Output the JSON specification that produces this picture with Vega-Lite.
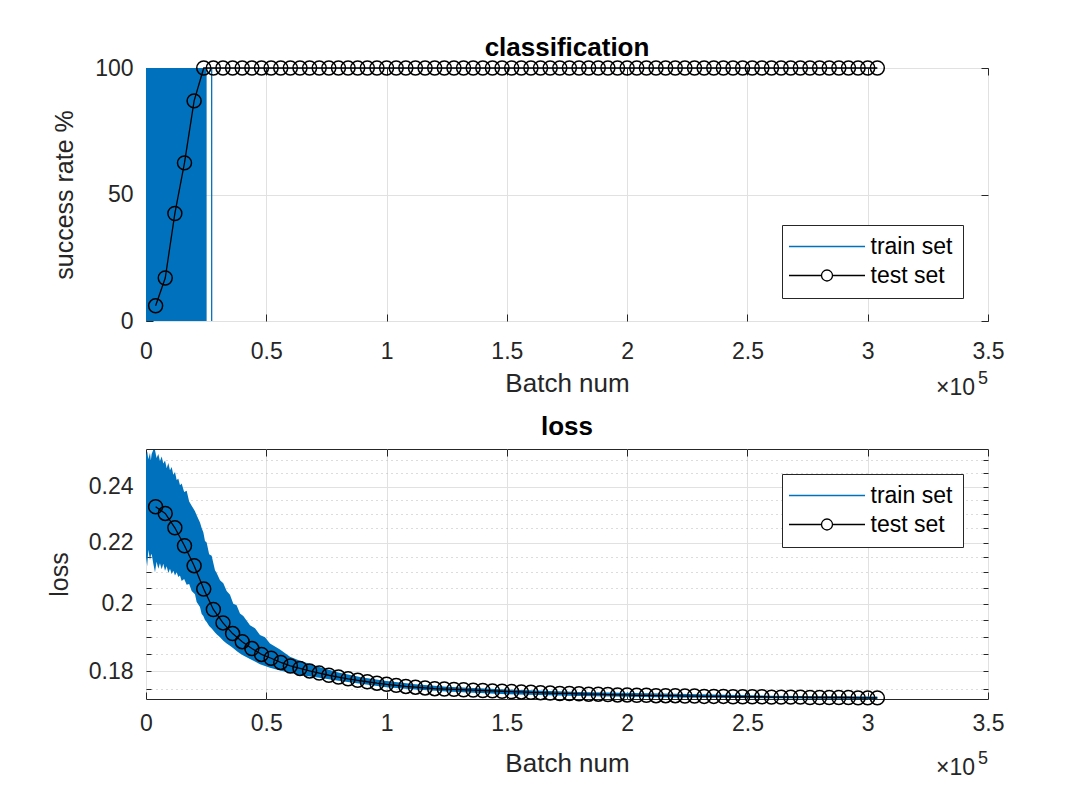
{
  "$schema": "https://vega.github.io/schema/vega-lite/v6.json",
  "background": "white",
  "autosize": {"type": "pad"},
  "padding": {"left": 46, "top": 34, "right": 5, "bottom": 5},
  "config": {
    "font": "Liberation Sans",
    "view": {"stroke": "#262626", "strokeWidth": 1},
    "axis": {
      "labelFont": "Liberation Sans", "labelFontSize": 23, "labelColor": "#262626",
      "titleFont": "Liberation Sans", "titleFontSize": 25, "titleFontWeight": "normal", "titleColor": "#262626",
      "domain": false, "tickColor": "#262626", "tickWidth": 1,
      "gridColor": "#e1e1e1", "gridWidth": 1, "labelFlush": false, "labelOverlap": false
    },
    "title": {"font": "Liberation Sans", "fontSize": 26, "fontWeight": "bold", "color": "#000000"},
    "legend": {
      "orient": "none", "title": null,
      "labelFont": "Liberation Sans", "labelFontSize": 23, "labelColor": "#000000",
      "strokeColor": "#262626", "fillColor": "white", "padding": 10,
      "symbolSize": 100, "symbolOffset": 23.5, "labelOffset": 32, "rowPadding": 5,
      "symbolStrokeWidth": 1.3, "symbolFillColor": "transparent",
      "labelLimit": 0
    }
  },
  "datasets": {
    "topBand": [
      {"batch": 0, "lo": 0, "hi": 100, "series": "train set"},
      {"batch": 25200, "lo": 0, "hi": 100, "series": "train set"}
    ],
    "topTrain": [
      {"batch": 25200, "rate": 100, "series": "train set"},
      {"batch": 27250, "rate": 100, "series": "train set"},
      {"batch": 27300, "rate": 0, "series": "train set"},
      {"batch": 27350, "rate": 100, "series": "train set"},
      {"batch": 304000, "rate": 100, "series": "train set"}
    ],
    "topTest": [
      {"batch": 4000, "rate": 6, "series": "test set"},
      {"batch": 8000, "rate": 17, "series": "test set"},
      {"batch": 12000, "rate": 42.5, "series": "test set"},
      {"batch": 16000, "rate": 62.5, "series": "test set"},
      {"batch": 20000, "rate": 87, "series": "test set"},
      {"batch": 24000, "rate": 100, "series": "test set"},
      {"batch": 28000, "rate": 100, "series": "test set"},
      {"batch": 32000, "rate": 100, "series": "test set"},
      {"batch": 36000, "rate": 100, "series": "test set"},
      {"batch": 40000, "rate": 100, "series": "test set"},
      {"batch": 44000, "rate": 100, "series": "test set"},
      {"batch": 48000, "rate": 100, "series": "test set"},
      {"batch": 52000, "rate": 100, "series": "test set"},
      {"batch": 56000, "rate": 100, "series": "test set"},
      {"batch": 60000, "rate": 100, "series": "test set"},
      {"batch": 64000, "rate": 100, "series": "test set"},
      {"batch": 68000, "rate": 100, "series": "test set"},
      {"batch": 72000, "rate": 100, "series": "test set"},
      {"batch": 76000, "rate": 100, "series": "test set"},
      {"batch": 80000, "rate": 100, "series": "test set"},
      {"batch": 84000, "rate": 100, "series": "test set"},
      {"batch": 88000, "rate": 100, "series": "test set"},
      {"batch": 92000, "rate": 100, "series": "test set"},
      {"batch": 96000, "rate": 100, "series": "test set"},
      {"batch": 100000, "rate": 100, "series": "test set"},
      {"batch": 104000, "rate": 100, "series": "test set"},
      {"batch": 108000, "rate": 100, "series": "test set"},
      {"batch": 112000, "rate": 100, "series": "test set"},
      {"batch": 116000, "rate": 100, "series": "test set"},
      {"batch": 120000, "rate": 100, "series": "test set"},
      {"batch": 124000, "rate": 100, "series": "test set"},
      {"batch": 128000, "rate": 100, "series": "test set"},
      {"batch": 132000, "rate": 100, "series": "test set"},
      {"batch": 136000, "rate": 100, "series": "test set"},
      {"batch": 140000, "rate": 100, "series": "test set"},
      {"batch": 144000, "rate": 100, "series": "test set"},
      {"batch": 148000, "rate": 100, "series": "test set"},
      {"batch": 152000, "rate": 100, "series": "test set"},
      {"batch": 156000, "rate": 100, "series": "test set"},
      {"batch": 160000, "rate": 100, "series": "test set"},
      {"batch": 164000, "rate": 100, "series": "test set"},
      {"batch": 168000, "rate": 100, "series": "test set"},
      {"batch": 172000, "rate": 100, "series": "test set"},
      {"batch": 176000, "rate": 100, "series": "test set"},
      {"batch": 180000, "rate": 100, "series": "test set"},
      {"batch": 184000, "rate": 100, "series": "test set"},
      {"batch": 188000, "rate": 100, "series": "test set"},
      {"batch": 192000, "rate": 100, "series": "test set"},
      {"batch": 196000, "rate": 100, "series": "test set"},
      {"batch": 200000, "rate": 100, "series": "test set"},
      {"batch": 204000, "rate": 100, "series": "test set"},
      {"batch": 208000, "rate": 100, "series": "test set"},
      {"batch": 212000, "rate": 100, "series": "test set"},
      {"batch": 216000, "rate": 100, "series": "test set"},
      {"batch": 220000, "rate": 100, "series": "test set"},
      {"batch": 224000, "rate": 100, "series": "test set"},
      {"batch": 228000, "rate": 100, "series": "test set"},
      {"batch": 232000, "rate": 100, "series": "test set"},
      {"batch": 236000, "rate": 100, "series": "test set"},
      {"batch": 240000, "rate": 100, "series": "test set"},
      {"batch": 244000, "rate": 100, "series": "test set"},
      {"batch": 248000, "rate": 100, "series": "test set"},
      {"batch": 252000, "rate": 100, "series": "test set"},
      {"batch": 256000, "rate": 100, "series": "test set"},
      {"batch": 260000, "rate": 100, "series": "test set"},
      {"batch": 264000, "rate": 100, "series": "test set"},
      {"batch": 268000, "rate": 100, "series": "test set"},
      {"batch": 272000, "rate": 100, "series": "test set"},
      {"batch": 276000, "rate": 100, "series": "test set"},
      {"batch": 280000, "rate": 100, "series": "test set"},
      {"batch": 284000, "rate": 100, "series": "test set"},
      {"batch": 288000, "rate": 100, "series": "test set"},
      {"batch": 292000, "rate": 100, "series": "test set"},
      {"batch": 296000, "rate": 100, "series": "test set"},
      {"batch": 300000, "rate": 100, "series": "test set"},
      {"batch": 304000, "rate": 100, "series": "test set"}
    ],
    "lossBand": [
      {"batch": 0, "lo": 0.2150, "hi": 0.2518, "series": "train set"},
      {"batch": 500, "lo": 0.2120, "hi": 0.2535, "series": "train set"},
      {"batch": 970, "lo": 0.2175, "hi": 0.2505, "series": "train set"},
      {"batch": 1660, "lo": 0.2140, "hi": 0.2530, "series": "train set"},
      {"batch": 2000, "lo": 0.2155, "hi": 0.2500, "series": "train set"},
      {"batch": 2350, "lo": 0.2162, "hi": 0.2525, "series": "train set"},
      {"batch": 3000, "lo": 0.2130, "hi": 0.2541, "series": "train set"},
      {"batch": 3740, "lo": 0.2100, "hi": 0.2541, "series": "train set"},
      {"batch": 4400, "lo": 0.2135, "hi": 0.2510, "series": "train set"},
      {"batch": 5120, "lo": 0.2112, "hi": 0.2525, "series": "train set"},
      {"batch": 5800, "lo": 0.2130, "hi": 0.2498, "series": "train set"},
      {"batch": 6510, "lo": 0.2110, "hi": 0.2515, "series": "train set"},
      {"batch": 7200, "lo": 0.2128, "hi": 0.2488, "series": "train set"},
      {"batch": 7900, "lo": 0.2105, "hi": 0.2500, "series": "train set"},
      {"batch": 8600, "lo": 0.2120, "hi": 0.2470, "series": "train set"},
      {"batch": 9280, "lo": 0.2098, "hi": 0.2490, "series": "train set"},
      {"batch": 9970, "lo": 0.2112, "hi": 0.2462, "series": "train set"},
      {"batch": 10670, "lo": 0.2095, "hi": 0.2475, "series": "train set"},
      {"batch": 11360, "lo": 0.2105, "hi": 0.2445, "series": "train set"},
      {"batch": 12050, "lo": 0.2090, "hi": 0.2455, "series": "train set"},
      {"batch": 12740, "lo": 0.2100, "hi": 0.2425, "series": "train set"},
      {"batch": 13440, "lo": 0.2085, "hi": 0.2430, "series": "train set"},
      {"batch": 14130, "lo": 0.2090, "hi": 0.2405, "series": "train set"},
      {"batch": 14820, "lo": 0.2072, "hi": 0.2412, "series": "train set"},
      {"batch": 15860, "lo": 0.2078, "hi": 0.2380, "series": "train set"},
      {"batch": 16900, "lo": 0.2060, "hi": 0.2385, "series": "train set"},
      {"batch": 17940, "lo": 0.2062, "hi": 0.2345, "series": "train set"},
      {"batch": 18980, "lo": 0.2040, "hi": 0.2330, "series": "train set"},
      {"batch": 20360, "lo": 0.2030, "hi": 0.2310, "series": "train set"},
      {"batch": 21060, "lo": 0.2005, "hi": 0.2295, "series": "train set"},
      {"batch": 22440, "lo": 0.1990, "hi": 0.2270, "series": "train set"},
      {"batch": 23130, "lo": 0.1968, "hi": 0.2250, "series": "train set"},
      {"batch": 23830, "lo": 0.1962, "hi": 0.2235, "series": "train set"},
      {"batch": 24520, "lo": 0.1950, "hi": 0.2205, "series": "train set"},
      {"batch": 25210, "lo": 0.1944, "hi": 0.2200, "series": "train set"},
      {"batch": 26250, "lo": 0.1932, "hi": 0.2160, "series": "train set"},
      {"batch": 27290, "lo": 0.1924, "hi": 0.2155, "series": "train set"},
      {"batch": 28680, "lo": 0.1912, "hi": 0.2107, "series": "train set"},
      {"batch": 29370, "lo": 0.1907, "hi": 0.2098, "series": "train set"},
      {"batch": 30760, "lo": 0.1898, "hi": 0.2074, "series": "train set"},
      {"batch": 32140, "lo": 0.1888, "hi": 0.2065, "series": "train set"},
      {"batch": 33520, "lo": 0.1880, "hi": 0.2040, "series": "train set"},
      {"batch": 34910, "lo": 0.1873, "hi": 0.2028, "series": "train set"},
      {"batch": 36290, "lo": 0.1866, "hi": 0.2000, "series": "train set"},
      {"batch": 37670, "lo": 0.1858, "hi": 0.1995, "series": "train set"},
      {"batch": 39070, "lo": 0.1851, "hi": 0.1970, "series": "train set"},
      {"batch": 40450, "lo": 0.1845, "hi": 0.1962, "series": "train set"},
      {"batch": 43220, "lo": 0.1835, "hi": 0.1934, "series": "train set"},
      {"batch": 45300, "lo": 0.1828, "hi": 0.1925, "series": "train set"},
      {"batch": 47380, "lo": 0.1820, "hi": 0.1905, "series": "train set"},
      {"batch": 49460, "lo": 0.1815, "hi": 0.1898, "series": "train set"},
      {"batch": 51540, "lo": 0.1810, "hi": 0.1880, "series": "train set"},
      {"batch": 55690, "lo": 0.1802, "hi": 0.1862, "series": "train set"},
      {"batch": 59850, "lo": 0.1796, "hi": 0.1841, "series": "train set"},
      {"batch": 64000, "lo": 0.1790, "hi": 0.1830, "series": "train set"},
      {"batch": 72000, "lo": 0.1782, "hi": 0.1812, "series": "train set"},
      {"batch": 80000, "lo": 0.1774, "hi": 0.1797, "series": "train set"},
      {"batch": 90000, "lo": 0.1765, "hi": 0.1783, "series": "train set"},
      {"batch": 100000, "lo": 0.1756, "hi": 0.1773, "series": "train set"},
      {"batch": 112000, "lo": 0.1750, "hi": 0.1764, "series": "train set"},
      {"batch": 125000, "lo": 0.1744, "hi": 0.1757, "series": "train set"},
      {"batch": 150000, "lo": 0.1737, "hi": 0.1750, "series": "train set"},
      {"batch": 180000, "lo": 0.1732, "hi": 0.1743, "series": "train set"},
      {"batch": 220000, "lo": 0.1728, "hi": 0.1738, "series": "train set"},
      {"batch": 260000, "lo": 0.1726, "hi": 0.1733, "series": "train set"},
      {"batch": 304000, "lo": 0.1724, "hi": 0.1731, "series": "train set"}
    ],
    "lossTest": [
      {"batch": 4000, "loss": 0.2326, "series": "test set"},
      {"batch": 8000, "loss": 0.2302, "series": "test set"},
      {"batch": 12000, "loss": 0.2251, "series": "test set"},
      {"batch": 16000, "loss": 0.2189, "series": "test set"},
      {"batch": 20000, "loss": 0.2122, "series": "test set"},
      {"batch": 24000, "loss": 0.2046, "series": "test set"},
      {"batch": 28000, "loss": 0.1982, "series": "test set"},
      {"batch": 32000, "loss": 0.1941, "series": "test set"},
      {"batch": 36000, "loss": 0.1909, "series": "test set"},
      {"batch": 40000, "loss": 0.1885, "series": "test set"},
      {"batch": 44000, "loss": 0.1865, "series": "test set"},
      {"batch": 48000, "loss": 0.1848, "series": "test set"},
      {"batch": 52000, "loss": 0.1837, "series": "test set"},
      {"batch": 56000, "loss": 0.1825, "series": "test set"},
      {"batch": 60000, "loss": 0.1815, "series": "test set"},
      {"batch": 64000, "loss": 0.1808, "series": "test set"},
      {"batch": 68000, "loss": 0.1801, "series": "test set"},
      {"batch": 72000, "loss": 0.1795, "series": "test set"},
      {"batch": 76000, "loss": 0.1789, "series": "test set"},
      {"batch": 80000, "loss": 0.1784, "series": "test set"},
      {"batch": 84000, "loss": 0.1779, "series": "test set"},
      {"batch": 88000, "loss": 0.1775, "series": "test set"},
      {"batch": 92000, "loss": 0.1771, "series": "test set"},
      {"batch": 96000, "loss": 0.1767, "series": "test set"},
      {"batch": 100000, "loss": 0.1764, "series": "test set"},
      {"batch": 104000, "loss": 0.1761, "series": "test set"},
      {"batch": 108000, "loss": 0.1758, "series": "test set"},
      {"batch": 112000, "loss": 0.1756, "series": "test set"},
      {"batch": 116000, "loss": 0.1754, "series": "test set"},
      {"batch": 120000, "loss": 0.1752, "series": "test set"},
      {"batch": 124000, "loss": 0.1751, "series": "test set"},
      {"batch": 128000, "loss": 0.1750, "series": "test set"},
      {"batch": 132000, "loss": 0.1749, "series": "test set"},
      {"batch": 136000, "loss": 0.1748, "series": "test set"},
      {"batch": 140000, "loss": 0.1747, "series": "test set"},
      {"batch": 144000, "loss": 0.1746, "series": "test set"},
      {"batch": 148000, "loss": 0.1745, "series": "test set"},
      {"batch": 152000, "loss": 0.1744, "series": "test set"},
      {"batch": 156000, "loss": 0.1743, "series": "test set"},
      {"batch": 160000, "loss": 0.1742, "series": "test set"},
      {"batch": 164000, "loss": 0.1741, "series": "test set"},
      {"batch": 168000, "loss": 0.1740, "series": "test set"},
      {"batch": 172000, "loss": 0.1739, "series": "test set"},
      {"batch": 176000, "loss": 0.1739, "series": "test set"},
      {"batch": 180000, "loss": 0.1738, "series": "test set"},
      {"batch": 184000, "loss": 0.1737, "series": "test set"},
      {"batch": 188000, "loss": 0.1737, "series": "test set"},
      {"batch": 192000, "loss": 0.1736, "series": "test set"},
      {"batch": 196000, "loss": 0.1735, "series": "test set"},
      {"batch": 200000, "loss": 0.1735, "series": "test set"},
      {"batch": 204000, "loss": 0.1734, "series": "test set"},
      {"batch": 208000, "loss": 0.1734, "series": "test set"},
      {"batch": 212000, "loss": 0.1733, "series": "test set"},
      {"batch": 216000, "loss": 0.1733, "series": "test set"},
      {"batch": 220000, "loss": 0.1733, "series": "test set"},
      {"batch": 224000, "loss": 0.1732, "series": "test set"},
      {"batch": 228000, "loss": 0.1732, "series": "test set"},
      {"batch": 232000, "loss": 0.1731, "series": "test set"},
      {"batch": 236000, "loss": 0.1731, "series": "test set"},
      {"batch": 240000, "loss": 0.1731, "series": "test set"},
      {"batch": 244000, "loss": 0.1730, "series": "test set"},
      {"batch": 248000, "loss": 0.1730, "series": "test set"},
      {"batch": 252000, "loss": 0.1730, "series": "test set"},
      {"batch": 256000, "loss": 0.1730, "series": "test set"},
      {"batch": 260000, "loss": 0.1729, "series": "test set"},
      {"batch": 264000, "loss": 0.1729, "series": "test set"},
      {"batch": 268000, "loss": 0.1729, "series": "test set"},
      {"batch": 272000, "loss": 0.1729, "series": "test set"},
      {"batch": 276000, "loss": 0.1728, "series": "test set"},
      {"batch": 280000, "loss": 0.1728, "series": "test set"},
      {"batch": 284000, "loss": 0.1728, "series": "test set"},
      {"batch": 288000, "loss": 0.1728, "series": "test set"},
      {"batch": 292000, "loss": 0.1728, "series": "test set"},
      {"batch": 296000, "loss": 0.1727, "series": "test set"},
      {"batch": 300000, "loss": 0.1727, "series": "test set"},
      {"batch": 304000, "loss": 0.1727, "series": "test set"}
    ],
    "expo": [{"batch": 350000, "base": "×10", "sup": "5"}]
  },
  "bounds": "flush",
  "spacing": 128,
  "resolve": {"scale": {"color": "independent"}, "legend": {"color": "independent"}},
  "vconcat": [
    {
      "width": 842,
      "height": 253,
      "title": {"text": "classification", "offset": -4},
      "resolve": {"axis": {"x": "independent", "y": "independent"}},
      "layer": [
        {
          "data": {"name": "topBand"},
          "mark": {"type": "area", "clip": true},
          "encoding": {
            "x": {"field": "batch", "type": "quantitative", "scale": {"domain": [0, 350000], "nice": false, "zero": false},
                  "axis": {"orient": "top", "values": [0, 50000, 100000, 150000, 200000, 250000, 300000, 350000], "labels": false, "grid": false, "title": null, "tickSize": -7}},
            "y": {"field": "hi", "type": "quantitative", "scale": {"domain": [0, 100], "nice": false},
                  "axis": {"orient": "right", "values": [0, 50, 100], "labels": false, "grid": false, "title": null, "tickSize": -7}},
            "y2": {"field": "lo"},
            "color": {"field": "series", "type": "nominal",
                      "scale": {"domain": ["train set", "test set"], "range": ["#0072BD", "#000000"]},
                      "legend": {"legendX": 636, "legendY": 157,
                        "encode": {"symbols": {"update": {
                          "shape": {"signal": "datum.label == 'test set' ? 'M-7.6,0H-1.1M1.1,0H7.6M-1.1,0A1.1,1.1 0 1,1 1.1,0A1.1,1.1 0 1,1 -1.1,0' : 'M-7.6,0H7.6'"},
                          "fill": {"value": "transparent"},
                          "fillOpacity": {"value": 0},
                          "stroke": {"signal": "datum.label == 'test set' ? '#000000' : '#0072BD'"}
                        }}}}}
          }
        },
        {
          "data": {"name": "topTrain"},
          "mark": {"type": "line", "strokeWidth": 1, "clip": true},
          "encoding": {
            "x": {"field": "batch", "type": "quantitative", "axis": null},
            "y": {"field": "rate", "type": "quantitative", "axis": null},
            "color": {"field": "series", "type": "nominal"}
          }
        },
        {
          "data": {"name": "topTest"},
          "mark": {"type": "line", "strokeWidth": 1.3, "clip": false,
                   "point": {"filled": false, "shape": "circle", "size": 195, "strokeWidth": 1.5}},
          "encoding": {
            "x": {"field": "batch", "type": "quantitative",
                  "axis": {"orient": "bottom", "values": [0, 50000, 100000, 150000, 200000, 250000, 300000, 350000],
                           "labelExpr": "format(datum.value/100000, '~g')", "grid": true, "tickSize": -7, "labelPadding": 26,
                           "title": "Batch num", "titleFontSize": 26, "titleX": 421, "titleY": 62, "titleBaseline": "middle"}},
            "y": {"field": "rate", "type": "quantitative",
                  "axis": {"orient": "left", "values": [0, 50, 100], "grid": true, "tickSize": -7, "labelPadding": 20,
                           "title": "success rate %", "titleX": -82, "titleY": 126.5, "titleBaseline": "middle"}},
            "color": {"field": "series", "type": "nominal"}
          }
        },
        {
          "data": {"name": "expo"},
          "mark": {"type": "text", "align": "right", "baseline": "alphabetic", "dx": -13, "dy": 74, "fontSize": 23, "font": "Liberation Sans", "color": "#262626", "clip": false},
          "encoding": {
            "x": {"field": "batch", "type": "quantitative", "axis": null},
            "y": {"datum": 0, "type": "quantitative", "axis": null},
            "text": {"field": "base"}
          }
        },
        {
          "data": {"name": "expo"},
          "mark": {"type": "text", "align": "right", "baseline": "alphabetic", "dx": 0, "dy": 63, "fontSize": 18, "font": "Liberation Sans", "color": "#262626", "clip": false},
          "encoding": {
            "x": {"field": "batch", "type": "quantitative", "axis": null},
            "y": {"datum": 0, "type": "quantitative", "axis": null},
            "text": {"field": "sup"}
          }
        }
      ]
    },
    {
      "width": 842,
      "height": 250,
      "title": {"text": "loss", "offset": 9},
      "resolve": {"axis": {"x": "independent", "y": "independent"}},
      "layer": [
        {
          "data": {"name": "lossBand"},
          "mark": {"type": "area", "clip": true},
          "encoding": {
            "x": {"field": "batch", "type": "quantitative", "scale": {"domain": [0, 350000], "nice": false, "zero": false},
                  "axis": {"orient": "top", "values": [0, 50000, 100000, 150000, 200000, 250000, 300000, 350000], "labels": false, "grid": false, "title": null, "tickSize": -7}},
            "y": {"field": "hi", "type": "quantitative", "scale": {"type": "log", "domain": [0.1724, 0.2545], "nice": false},
                  "axis": {"orient": "right", "values": [0.175, 0.18, 0.185, 0.19, 0.195, 0.2, 0.205, 0.21, 0.215, 0.22, 0.225, 0.23, 0.235, 0.24, 0.245, 0.25],
                           "labels": false, "grid": false, "title": null, "tickSize": -5}},
            "y2": {"field": "lo"},
            "color": {"field": "series", "type": "nominal",
                      "scale": {"domain": ["train set", "test set"], "range": ["#0072BD", "#000000"]},
                      "legend": {"legendX": 636, "legendY": 25,
                        "encode": {"symbols": {"update": {
                          "shape": {"signal": "datum.label == 'test set' ? 'M-7.6,0H-1.1M1.1,0H7.6M-1.1,0A1.1,1.1 0 1,1 1.1,0A1.1,1.1 0 1,1 -1.1,0' : 'M-7.6,0H7.6'"},
                          "fill": {"value": "transparent"},
                          "fillOpacity": {"value": 0},
                          "stroke": {"signal": "datum.label == 'test set' ? '#000000' : '#0072BD'"}
                        }}}}}
          }
        },
        {
          "data": {"name": "lossTest"},
          "mark": {"type": "line", "strokeWidth": 1.3, "clip": false,
                   "point": {"filled": false, "shape": "circle", "size": 195, "strokeWidth": 1.5}},
          "encoding": {
            "x": {"field": "batch", "type": "quantitative",
                  "axis": {"orient": "bottom", "values": [0, 50000, 100000, 150000, 200000, 250000, 300000, 350000],
                           "labelExpr": "format(datum.value/100000, '~g')", "grid": true, "tickSize": -7, "labelPadding": 20,
                           "title": "Batch num", "titleFontSize": 26, "titleX": 421, "titleY": 64, "titleBaseline": "middle"}},
            "y": {"field": "loss", "type": "quantitative",
                  "axis": {"orient": "left", "values": [0.175, 0.18, 0.185, 0.19, 0.195, 0.2, 0.205, 0.21, 0.215, 0.22, 0.225, 0.23, 0.235, 0.24, 0.245, 0.25],
                           "labelExpr": "round(datum.value*1000) % 20 == 0 ? format(datum.value, '~g') : ''",
                           "grid": true, "tickSize": -5, "labelPadding": 18,
                           "gridDash": {"condition": {"test": "round(datum.value*1000) % 20 != 0", "value": [1, 4]}, "value": []},
                           "gridColor": {"condition": {"test": "round(datum.value*1000) % 20 != 0", "value": "#b8b8b8"}, "value": "#e1e1e1"},
                           "title": "loss", "titleX": -87, "titleY": 125, "titleBaseline": "middle"}},
            "color": {"field": "series", "type": "nominal"}
          }
        },
        {
          "data": {"name": "expo"},
          "mark": {"type": "text", "align": "right", "baseline": "alphabetic", "dx": -13, "dy": 76, "fontSize": 23, "font": "Liberation Sans", "color": "#262626", "clip": false},
          "encoding": {
            "x": {"field": "batch", "type": "quantitative", "axis": null},
            "y": {"datum": 0.1724, "type": "quantitative", "axis": null},
            "text": {"field": "base"}
          }
        },
        {
          "data": {"name": "expo"},
          "mark": {"type": "text", "align": "right", "baseline": "alphabetic", "dx": 0, "dy": 65, "fontSize": 18, "font": "Liberation Sans", "color": "#262626", "clip": false},
          "encoding": {
            "x": {"field": "batch", "type": "quantitative", "axis": null},
            "y": {"datum": 0.1724, "type": "quantitative", "axis": null},
            "text": {"field": "sup"}
          }
        }
      ]
    }
  ]
}
